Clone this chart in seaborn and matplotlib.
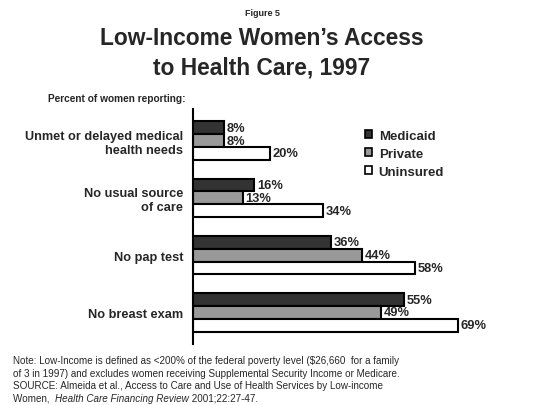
import pandas as pd
import seaborn as sns
import matplotlib.pyplot as plt

categories = ['Unmet or delayed medical\nhealth needs', 'No usual source\nof care',
              'No pap test', 'No breast exam']
medicaid = [8, 16, 36, 55]
private = [8, 13, 44, 49]
uninsured = [20, 34, 58, 69]
groups = ['Medicaid', 'Private', 'Uninsured']
colors = ['#333333', '#999999', '#ffffff']

rows = []
for g, vals in zip(groups, [medicaid, private, uninsured]):
    for c, v in zip(categories, vals):
        rows.append({'cat': c, 'group': g, 'pct': v})
df = pd.DataFrame(rows)

sns.set_style('white')
plt.rcParams['font.family'] = ['Liberation Sans', 'DejaVu Sans']

fig = plt.figure(figsize=(5.48, 4.06), dpi=100)
ax = fig.add_axes([193 / 548, 1 - 345 / 406, 345 / 548, 235 / 406])

sns.barplot(data=df, y='cat', x='pct', hue='group', orient='h', palette=colors,
            width=0.67, edgecolor='black', linewidth=1.5, ax=ax, legend=True)

for cont in ax.containers:
    ax.bar_label(cont, labels=[f'{int(v)}%' for v in cont.datavalues],
                 padding=2, fontsize=9.3, fontweight='bold')

ax.set_xlim(0, 90)
ax.set_ylim(3.55, -0.55)
ax.set_xlabel('')
ax.set_ylabel('')
ax.set_xticks([])
for s in ['top', 'right', 'bottom']:
    ax.spines[s].set_visible(False)
ax.spines['left'].set_color('black')
ax.spines['left'].set_linewidth(1.5)
ax.tick_params(axis='y', length=0, pad=7)
for lbl in ax.get_yticklabels():
    lbl.set_fontweight('bold')
    lbl.set_fontsize(9.2)

leg = ax.legend(loc='upper left', bbox_to_anchor=(353 / 548, 1 - 119 / 406),
                bbox_transform=fig.transFigure, frameon=False,
                prop={'weight': 'bold', 'size': 9.5}, handlelength=0.55,
                handleheight=0.55, handletextpad=0.5, labelspacing=0.45)
for h in leg.legend_handles:
    h.set_edgecolor('black')
    h.set_linewidth(1.2)

fig.text(262 / 548, 1 - 13 / 406, 'Figure 5', ha='center', va='center',
         fontsize=6.5, fontweight='bold')
fig.text(262 / 548, 1 - 53.5 / 406, 'Low-Income Women\u2019s Access\nto Health Care, 1997',
         ha='center', va='center', fontsize=16.4, fontweight='bold', linespacing=1.38)
fig.text(48 / 548, 1 - 99 / 406, 'Percent of women reporting:', ha='left',
         va='center', fontsize=7.3, fontweight='bold')

note_lines = [
    'Note: Low-Income is defined as <200% of the federal poverty level (\\$26,660  for a family',
    'of 3 in 1997) and excludes women receiving Supplemental Security Income or Medicare.',
    'SOURCE: Almeida et al., Access to Care and Use of Health Services by Low-income',
]
fs = 7.1
for i, line in enumerate(note_lines):
    fig.text(13 / 548, 1 - (361 + 12.7 * i) / 406, line, ha='left', va='center',
             fontsize=fs)
t1 = fig.text(13 / 548, 1 - 399 / 406, 'Women,  ', ha='left', va='center', fontsize=fs)
t2 = ax.annotate('Health Care Financing Review', xy=(1, 0.5), xycoords=t1,
                 ha='left', va='center', fontsize=fs, style='italic')
ax.annotate(' 2001;22:27-47.', xy=(1, 0.5), xycoords=t2, ha='left', va='center',
            fontsize=fs)

fig.savefig('out.png', dpi=100)
